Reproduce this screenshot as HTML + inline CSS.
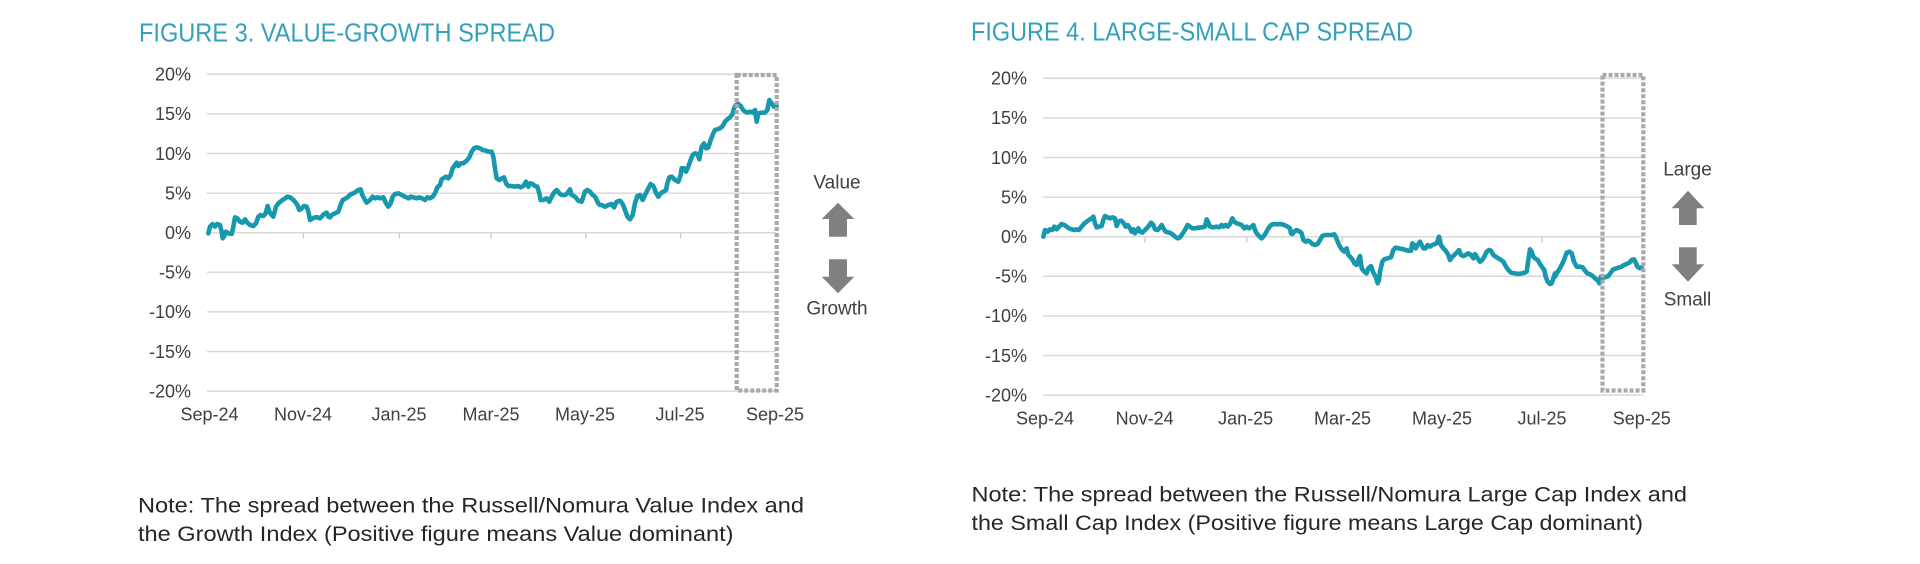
<!DOCTYPE html>
<html>
<head>
<meta charset="utf-8">
<style>
  html,body{margin:0;padding:0;background:#fff;}
  svg{display:block;}
  text{font-family:"Liberation Sans",Arial,sans-serif;}
</style>
</head>
<body>
<svg width="1920" height="564" viewBox="0 0 1920 564" xmlns="http://www.w3.org/2000/svg">
  <rect x="0" y="0" width="1920" height="564" fill="#ffffff"/>

  <!-- ================= FIGURE 3 ================= -->
  <text x="139" y="41.5" font-size="26" fill="#34a1ba" textLength="416" lengthAdjust="spacingAndGlyphs">FIGURE 3. VALUE-GROWTH SPREAD</text>

  <g stroke="#d9d9d9" stroke-width="1.5">
    <line x1="207" y1="74.3" x2="776" y2="74.3"/>
    <line x1="207" y1="113.9" x2="776" y2="113.9"/>
    <line x1="207" y1="153.5" x2="776" y2="153.5"/>
    <line x1="207" y1="193.1" x2="776" y2="193.1"/>
    <line x1="207" y1="232.7" x2="776" y2="232.7"/>
    <line x1="207" y1="272.3" x2="776" y2="272.3"/>
    <line x1="207" y1="311.9" x2="776" y2="311.9"/>
    <line x1="207" y1="351.5" x2="776" y2="351.5"/>
    <line x1="207" y1="391.1" x2="776" y2="391.1"/>
  </g>
  <g stroke="#d0d0d0" stroke-width="1.5">
    <line x1="303.3" y1="232.7" x2="303.3" y2="238.5"/>
    <line x1="399.3" y1="232.7" x2="399.3" y2="238.5"/>
    <line x1="491" y1="232.7" x2="491" y2="238.5"/>
    <line x1="585.7" y1="232.7" x2="585.7" y2="238.5"/>
    <line x1="680.7" y1="232.7" x2="680.7" y2="238.5"/>
  </g>

  <g font-size="18" fill="#404040" text-anchor="end">
    <text x="191" y="80.6">20%</text>
    <text x="191" y="120.2">15%</text>
    <text x="191" y="159.8">10%</text>
    <text x="191" y="199.4">5%</text>
    <text x="191" y="239">0%</text>
    <text x="191" y="278.6">-5%</text>
    <text x="191" y="318.2">-10%</text>
    <text x="191" y="357.8">-15%</text>
    <text x="191" y="397.4">-20%</text>
  </g>
  <g font-size="18" fill="#404040" text-anchor="middle">
    <text x="209.5" y="420.7">Sep-24</text>
    <text x="303" y="420.7">Nov-24</text>
    <text x="399" y="420.7">Jan-25</text>
    <text x="491" y="420.7">Mar-25</text>
    <text x="585" y="420.7">May-25</text>
    <text x="680" y="420.7">Jul-25</text>
    <text x="775" y="420.7">Sep-25</text>
  </g>

  <g transform="translate(200,80) scale(0.333333)">
    <polyline fill="none" stroke="#1898ad" stroke-width="4.6" vector-effect="non-scaling-stroke" stroke-linejoin="round" stroke-linecap="round"
      points="25,460 30,440 38,432 45,440 52,432 60,435 65,455 68,475 72,470 78,455 85,460 95,462 100,440 105,412 112,415 120,425 128,428 135,418 142,428 150,435 160,438 168,430 175,410 182,405 190,408 197,400 203,378 208,395 215,405 220,410 228,380 235,370 245,362 255,355 262,350 270,352 278,358 285,365 292,375 298,390 305,385 312,378 320,380 325,395 330,420 338,415 345,412 352,412 360,415 365,410 372,402 380,398 385,410 390,412 395,405 405,400 415,395 420,380 428,360 438,355 445,350 452,343 460,340 468,335 475,330 482,328 487,345 495,360 500,368 510,360 518,350 525,355 532,352 540,355 550,352 558,370 565,380 572,370 578,350 585,342 595,340 605,345 615,350 625,355 632,350 640,352 650,355 658,352 668,356 675,360 682,352 690,355 698,350 705,340 712,322 720,315 725,298 730,295 738,290 745,295 752,285 758,265 765,255 770,248 775,258 782,250 790,250 800,242 808,232 815,215 822,205 830,202 840,205 848,210 858,212 866,215 875,215 880,230 885,265 890,295 898,300 905,295 912,292 918,310 925,318 935,318 945,320 955,318 962,322 970,318 978,305 985,320 990,310 998,312 1005,318 1012,320 1018,340 1022,360 1030,360 1040,355 1048,365 1055,350 1062,338 1070,330 1078,340 1085,345 1095,345 1102,340 1110,328 1115,345 1125,350 1135,362 1145,365 1150,350 1155,335 1162,330 1170,335 1178,345 1185,350 1195,370 1200,375"/>
  </g>
  <g transform="translate(580,60) scale(0.333333)">
    <polyline fill="none" stroke="#1898ad" stroke-width="4.6" vector-effect="non-scaling-stroke" stroke-linejoin="round" stroke-linecap="round"
      points="60,435 65,435 75,440 85,435 95,432 102,442 110,425 120,422 128,432 135,450 142,470 150,478 158,465 165,430 172,408 180,405 188,420 195,405 205,385 212,372 220,378 228,398 235,410 242,400 250,395 258,390 262,370 268,352 275,350 285,360 295,365 302,345 305,325 312,325 318,335 325,320 332,300 338,285 345,280 352,282 358,298 365,260 372,250 378,265 385,262 392,240 400,220 405,210 412,208 420,205 428,198 435,185 442,178 450,172 458,162 462,145 468,135 475,132 482,138 488,148 495,155 502,158 510,155 518,158 525,150 530,185 535,160 545,158 555,158 562,150 568,120 575,130 582,140 590,140"/>
  </g>

  <rect x="736.7" y="75" width="40" height="315.5" fill="none" stroke="#a9a9a9" stroke-width="4.2" stroke-dasharray="4 2"/>

  <text x="837" y="188.3" font-size="19" fill="#404040" text-anchor="middle">Value</text>
  <polygon fill="#808080" points="838,202.7 854.3,219 847,219 847,236.7 829,236.7 829,219 821.7,219"/>
  <polygon fill="#808080" points="829,259.3 847,259.3 847,276.7 854.3,276.7 838,293.3 821.7,276.7 829,276.7"/>
  <text x="837" y="314.5" font-size="19" fill="#404040" text-anchor="middle">Growth</text>

  <text x="138" y="512.5" font-size="21" fill="#262626" textLength="666" lengthAdjust="spacingAndGlyphs">Note: The spread between the Russell/Nomura Value Index and</text>
  <text x="138" y="541" font-size="21" fill="#262626" textLength="595.5" lengthAdjust="spacingAndGlyphs">the Growth Index (Positive figure means Value dominant)</text>

  <!-- ================= FIGURE 4 ================= -->
  <text x="971" y="40.7" font-size="26" fill="#34a1ba" textLength="442" lengthAdjust="spacingAndGlyphs">FIGURE 4. LARGE-SMALL CAP SPREAD</text>

  <g stroke="#d9d9d9" stroke-width="1.5">
    <line x1="1043" y1="78.3" x2="1643" y2="78.3"/>
    <line x1="1043" y1="117.9" x2="1643" y2="117.9"/>
    <line x1="1043" y1="157.5" x2="1643" y2="157.5"/>
    <line x1="1043" y1="197.1" x2="1643" y2="197.1"/>
    <line x1="1043" y1="236.7" x2="1643" y2="236.7"/>
    <line x1="1043" y1="276.3" x2="1643" y2="276.3"/>
    <line x1="1043" y1="315.9" x2="1643" y2="315.9"/>
    <line x1="1043" y1="355.5" x2="1643" y2="355.5"/>
    <line x1="1043" y1="395.1" x2="1643" y2="395.1"/>
  </g>
  <g stroke="#d0d0d0" stroke-width="1.5">
    <line x1="1145" y1="236.7" x2="1145" y2="242.5"/>
    <line x1="1246.7" y1="236.7" x2="1246.7" y2="242.5"/>
    <line x1="1342.3" y1="236.7" x2="1342.3" y2="242.5"/>
    <line x1="1441.5" y1="236.7" x2="1441.5" y2="242.5"/>
    <line x1="1542" y1="236.7" x2="1542" y2="242.5"/>
  </g>

  <g font-size="18" fill="#404040" text-anchor="end">
    <text x="1027" y="84.6">20%</text>
    <text x="1027" y="124.2">15%</text>
    <text x="1027" y="163.8">10%</text>
    <text x="1027" y="203.4">5%</text>
    <text x="1027" y="243">0%</text>
    <text x="1027" y="282.6">-5%</text>
    <text x="1027" y="322.2">-10%</text>
    <text x="1027" y="361.8">-15%</text>
    <text x="1027" y="401.4">-20%</text>
  </g>
  <g font-size="18" fill="#404040" text-anchor="middle">
    <text x="1045" y="424.3">Sep-24</text>
    <text x="1144.6" y="424.3">Nov-24</text>
    <text x="1245.6" y="424.3">Jan-25</text>
    <text x="1342.5" y="424.3">Mar-25</text>
    <text x="1442" y="424.3">May-25</text>
    <text x="1542" y="424.3">Jul-25</text>
    <text x="1641.8" y="424.3">Sep-25</text>
  </g>

  <g transform="translate(1035,180) scale(0.333333)">
    <polyline fill="none" stroke="#1898ad" stroke-width="4.6" vector-effect="non-scaling-stroke" stroke-linejoin="round" stroke-linecap="round"
      points="25,170 30,150 38,155 45,148 52,150 58,140 65,148 72,140 80,132 88,135 95,140 102,145 110,148 118,150 125,148 132,150 140,140 148,130 155,125 162,120 170,115 175,110 180,130 185,142 192,140 200,138 205,120 210,108 218,112 225,115 232,112 240,115 245,138 250,125 258,122 265,128 272,140 278,135 285,145 290,155 295,148 300,160 305,150 310,145 315,155 322,158 330,150 340,140 348,128 355,135 360,148 368,150 375,142 380,135 385,145 392,155 400,157 408,160 415,165 420,170 428,175 435,172 442,162 450,150 458,135 465,140 472,145 480,145 490,143 500,142 510,140 515,118 520,128 525,140 535,142 545,140 552,142 560,135 565,140 572,135 578,140 585,132 592,115 598,125 605,130 612,132 620,135 628,145 635,140 642,145 650,140 655,135 660,150 665,160 672,168 680,175 685,170 692,160 700,145 708,135 718,132 728,133 738,132 748,135 758,140 765,145 768,160 772,162 778,155 785,150 795,155 800,160 805,180 812,185 818,182 825,185 832,192 840,195 848,192 855,180 862,168 870,165 880,165 890,165 898,163 902,170 908,185 915,200 922,210 928,215 935,205 940,225 945,230 952,238 958,250 965,255 970,240 975,228 980,265 988,275 995,280 1000,265 1008,258 1015,278 1022,290 1028,310 1032,300 1035,275 1042,245 1048,238 1058,235 1068,232 1075,210 1082,203 1092,205 1102,207 1112,210 1120,212 1128,212 1132,190 1138,195 1142,205 1148,195 1155,185 1160,195 1165,205 1172,205 1178,195 1185,200 1192,195 1200,192 1205,190 1212,170 1218,195 1225,205 1232,212 1240,225 1245,240 1250,232 1258,225 1265,218 1272,210 1278,225 1285,228 1292,225 1300,220 1308,225 1315,235 1320,222 1328,235 1335,245 1342,240 1348,230 1355,215 1362,210 1368,212 1375,225 1382,230 1390,235 1398,240 1405,245 1412,258 1420,270 1428,278 1440,280 1450,282 1460,280 1470,278 1475,275 1480,240 1485,208 1490,215 1495,230 1500,235 1508,240 1515,252 1522,262 1528,270 1532,290 1538,305 1545,312 1550,310 1555,295 1560,280"/>
  </g>
  <g transform="translate(1400,60) scale(0.333333)">
    <polyline fill="none" stroke="#1898ad" stroke-width="4.6" vector-effect="non-scaling-stroke" stroke-linejoin="round" stroke-linecap="round"
      points="465,650 470,640 478,628 485,615 492,600 500,578 508,575 515,580 522,605 530,620 540,620 548,622 555,632 562,640 570,643 578,648 585,655 592,660 598,670 603,650 608,650 615,652 625,648 632,638 640,628 650,625 658,622 665,620 672,615 680,612 688,608 695,600 702,598 708,610 712,620 720,625 725,622"/>
  </g>

  <rect x="1602.5" y="75" width="40.8" height="315.5" fill="none" stroke="#a9a9a9" stroke-width="4.2" stroke-dasharray="4 2"/>

  <text x="1687.5" y="175.7" font-size="19" fill="#404040" text-anchor="middle">Large</text>
  <polygon fill="#808080" points="1688,190.7 1704.3,208.3 1696.7,208.3 1696.7,225 1679,225 1679,208.3 1671.7,208.3"/>
  <polygon fill="#808080" points="1679,247.3 1696.7,247.3 1696.7,264.3 1704.3,264.3 1688,281.7 1671.7,264.3 1679,264.3"/>
  <text x="1687.5" y="305.7" font-size="19" fill="#404040" text-anchor="middle">Small</text>

  <text x="971.5" y="501.5" font-size="21" fill="#262626" textLength="715.5" lengthAdjust="spacingAndGlyphs">Note: The spread between the Russell/Nomura Large Cap Index and</text>
  <text x="971.5" y="530" font-size="21" fill="#262626" textLength="671.5" lengthAdjust="spacingAndGlyphs">the Small Cap Index (Positive figure means Large Cap dominant)</text>
</svg>
</body>
</html>
